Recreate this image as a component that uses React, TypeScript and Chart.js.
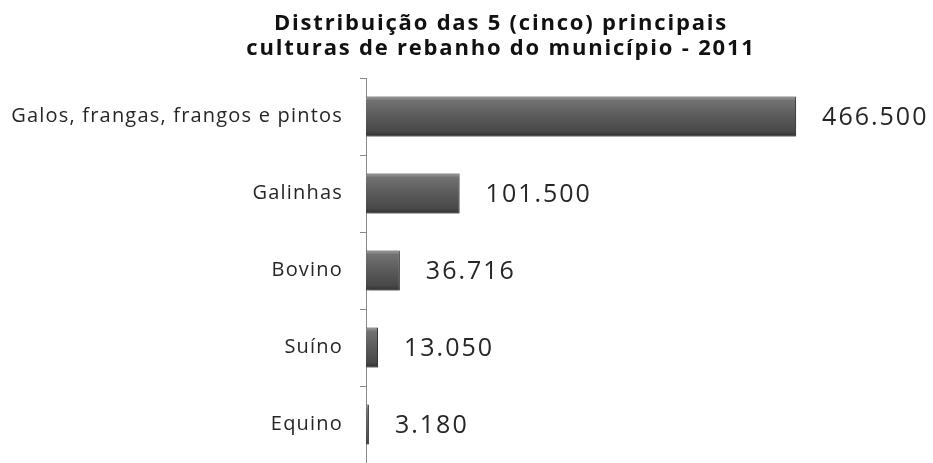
import { useEffect, useRef } from 'react';
import { Chart, registerables } from 'chart.js';

Chart.register(...registerables);

const categories = ['Galos, frangas, frangos e pintos', 'Galinhas', 'Bovino', 'Suíno', 'Equino'];
const values = [466500, 101500, 36716, 13050, 3180];
const titleLines = ['Distribuição das 5 (cinco) principais', 'culturas de rebanho do município - 2011'];
const axisMax = 500000;

const fmt = (v: number) => String(v).replace(/\B(?=(\d{3})+(?!\d))/g, '.');

const decorPlugin = {
  id: 'decor',
  beforeDraw(chart: any) {
    (chart.ctx as any).letterSpacing = '1.2px';
  },
  beforeDatasetsDraw(chart: any) {
    const ctx = chart.ctx;
    (ctx as any).letterSpacing = '0px';
    ctx.save();
    ctx.shadowColor = 'rgba(0,0,0,0.35)';
    ctx.shadowBlur = 4;
    ctx.shadowOffsetX = 1;
    ctx.shadowOffsetY = 2;
  },
  afterDatasetsDraw(chart: any) {
    const ctx = chart.ctx;
    ctx.restore();
    const meta = chart.getDatasetMeta(0);
    ctx.save();
    ctx.font = '25px "Open Sans"';
    ctx.fillStyle = '#262626';
    ctx.textBaseline = 'middle';
    ctx.textAlign = 'left';
    (ctx as any).letterSpacing = '2px';
    meta.data.forEach((el: any, i: number) => {
      ctx.fillText(fmt(values[i]), el.x + 26, el.y + 1);
    });
    ctx.restore();
  },
  afterDraw(chart: any) {
    const ctx = chart.ctx;
    ctx.save();
    ctx.font = 'bold 22px "Open Sans"';
    ctx.fillStyle = '#111';
    ctx.textAlign = 'center';
    ctx.textBaseline = 'alphabetic';
    (ctx as any).letterSpacing = '1.8px';
    titleLines.forEach((t, i) => ctx.fillText(t, 501, 30 + i * 25));
    ctx.restore();
    (ctx as any).letterSpacing = '0px';
  },
};

export default function App() {
  const ref = useRef<HTMLCanvasElement | null>(null);
  useEffect(() => {
    if (!ref.current) return;
    const chart = new Chart(ref.current, {
      type: 'bar',
      data: {
        labels: categories,
        datasets: [
          {
            data: values,
            backgroundColor: (c: any) => {
              const ch = c.chart;
              const { ctx, chartArea, scales } = ch;
              if (!chartArea || c.dataIndex === undefined || !scales.y) return '#555';
              const yc = scales.y.getPixelForValue(c.dataIndex);
              const h = 20;
              const g = ctx.createLinearGradient(0, yc - h, 0, yc + h);
              g.addColorStop(0, '#a0a0a0');
              g.addColorStop(0.1, '#727272');
              g.addColorStop(0.5, '#5a5a5a');
              g.addColorStop(0.88, '#484848');
              g.addColorStop(1, '#2e2e2e');
              return g;
            },
            borderColor: '#3a3a3a',
            borderWidth: 1,
            barPercentage: 0.52,
            categoryPercentage: 1,
          },
        ],
      },
      options: {
        indexAxis: 'y',
        responsive: false,
        animation: false,
        layout: { padding: { top: 78, right: 106, bottom: 0, left: 0 } },
        plugins: { legend: { display: false }, tooltip: { enabled: false }, title: { display: false } },
        scales: {
          x: { display: false, min: 0, max: axisMax },
          y: {
            grid: { display: true, drawOnChartArea: false, drawTicks: true, tickLength: 6, color: '#8a8a8a', offset: true },
            border: { display: true, color: '#8a8a8a', width: 1 },
            ticks: { color: '#262626', font: { family: 'Open Sans', size: 20 }, padding: 17 },
            afterFit(scale: any) {
              scale.width = 366;
              scale.paddingTop = 0;
              scale.paddingBottom = 0;
            },
          },
        },
      },
      plugins: [decorPlugin],
    });
    return () => chart.destroy();
  }, []);
  return (
    <div style={{ position: 'fixed', left: 0, top: 0, width: 933, height: 463, background: '#fff' }}>
      <canvas ref={ref} width={933} height={463} />
    </div>
  );
}
